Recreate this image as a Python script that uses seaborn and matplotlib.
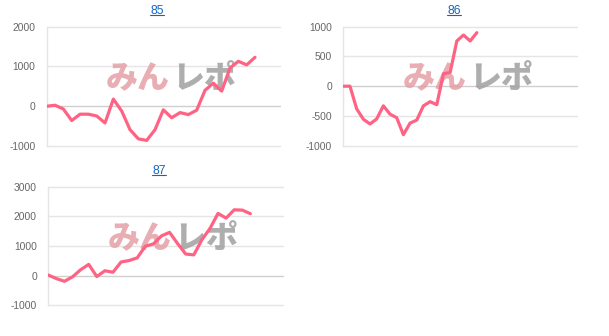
import matplotlib
matplotlib.use("Agg")
import matplotlib.pyplot as plt
import seaborn as sns
import pandas as pd
from matplotlib.lines import Line2D

sns.set_theme(style="white")
plt.rcParams["font.family"] = ["Liberation Sans", "DejaVu Sans"]

# ---- data ----
titles = ["85", "86", "87"]
values_85 = [0, 25, -70, -360, -200, -200, -245, -420, 180, -120, -590, -820, -860,
             -590, -90, -290, -160, -210, -100, 400, 580, 380, 960, 1130, 1040, 1230]
values_86 = [0, 0, -380, -555, -635, -550, -330, -470, -530, -815, -620, -570, -330,
             -260, -310, 210, 230, 760, 860, 760, 900]
values_87 = [20, -100, -190, -40, 200, 380, -30, 165, 115, 460, 510, 600, 990, 1070,
             1340, 1460, 1080, 730, 700, 1210, 1590, 2100, 1940, 2220, 2210, 2090]
slots = [29, 36, 30]          # number of x categories on each axis
ylims = [(-1000, 2000), (-1000, 1000), (-1000, 3000)]
ysteps = [1000, 500, 1000]
watermark_a = "みん"
watermark_b = "レポ"

W, H = 609, 336
fig = plt.figure(figsize=(W / 100, H / 100), dpi=100)

def frac(l, t, r, b):
    return [l / W, 1 - b / H, (r - l) / W, (b - t) / H]

rects = [frac(46.7, 26.7, 280, 146), frac(343.3, 26.7, 577, 145.7), frac(48.3, 186.7, 282.7, 305.3)]
title_pos = [(157, 10.5), (454, 10.5), (159, 170.5)]
series = [values_85, values_86, values_87]

line_color = "#ff6384"
grid_color = "#e5e5e5"
zero_color = "#cfcfcf"
link_color = "#1565c0"

fig.canvas.draw()
for i, (vals, rect) in enumerate(zip(series, rects)):
    ax = fig.add_axes(rect)
    df = pd.DataFrame({"x": list(range(len(vals))), "y": vals})
    sns.lineplot(data=df, x="x", y="y", ax=ax, color=line_color, linewidth=2.3, zorder=5)
    ax.set_xlim(0, slots[i] - 1)
    lo, hi = ylims[i]
    ax.set_ylim(lo, hi)
    ticks = list(range(lo, hi + 1, ysteps[i]))
    ax.set_yticks(ticks)
    ax.set_yticklabels([str(t) for t in ticks])
    ax.set_xticks([])
    ax.set_xlabel("")
    ax.set_ylabel("")
    for s in ["top", "right", "bottom"]:
        ax.spines[s].set_visible(False)
    ax.spines["left"].set_color(grid_color)
    ax.spines["left"].set_linewidth(1)
    ax.grid(False)
    for t in ticks:
        ax.axhline(t, color=zero_color if t == 0 else grid_color, linewidth=1, zorder=1, clip_on=False)
    ax.tick_params(axis="y", length=7.2, width=1, color=grid_color, pad=1,
                   labelsize=7.4, labelcolor="#666666")
    ax.patch.set_alpha(0)
    # watermark
    ax.text(0.528, 0.567, watermark_a, transform=ax.transAxes, ha="right", va="center",
            fontsize=23, fontweight="black", color="#e39aa0", alpha=0.8,
            family=["Noto Sans CJK JP"], zorder=2)
    ax.text(0.538, 0.567, watermark_b, transform=ax.transAxes, ha="left", va="center",
            fontsize=23, fontweight="black", color="#a0a0a0", alpha=0.85,
            family=["Noto Sans CJK JP"], zorder=2)
    # title with underline
    tx, ty = title_pos[i]
    txt = fig.text(tx / W, 1 - ty / H, titles[i], ha="center", va="center",
                   fontsize=8.8, color=link_color)
    fig.canvas.draw()
    bb = txt.get_window_extent()
    uy = (bb.y0 + 2.0) / H
    fig.add_artist(Line2D([bb.x0 / W, bb.x1 / W], [uy, uy], color=link_color, linewidth=0.8))

fig.savefig("out.png", dpi=100)
